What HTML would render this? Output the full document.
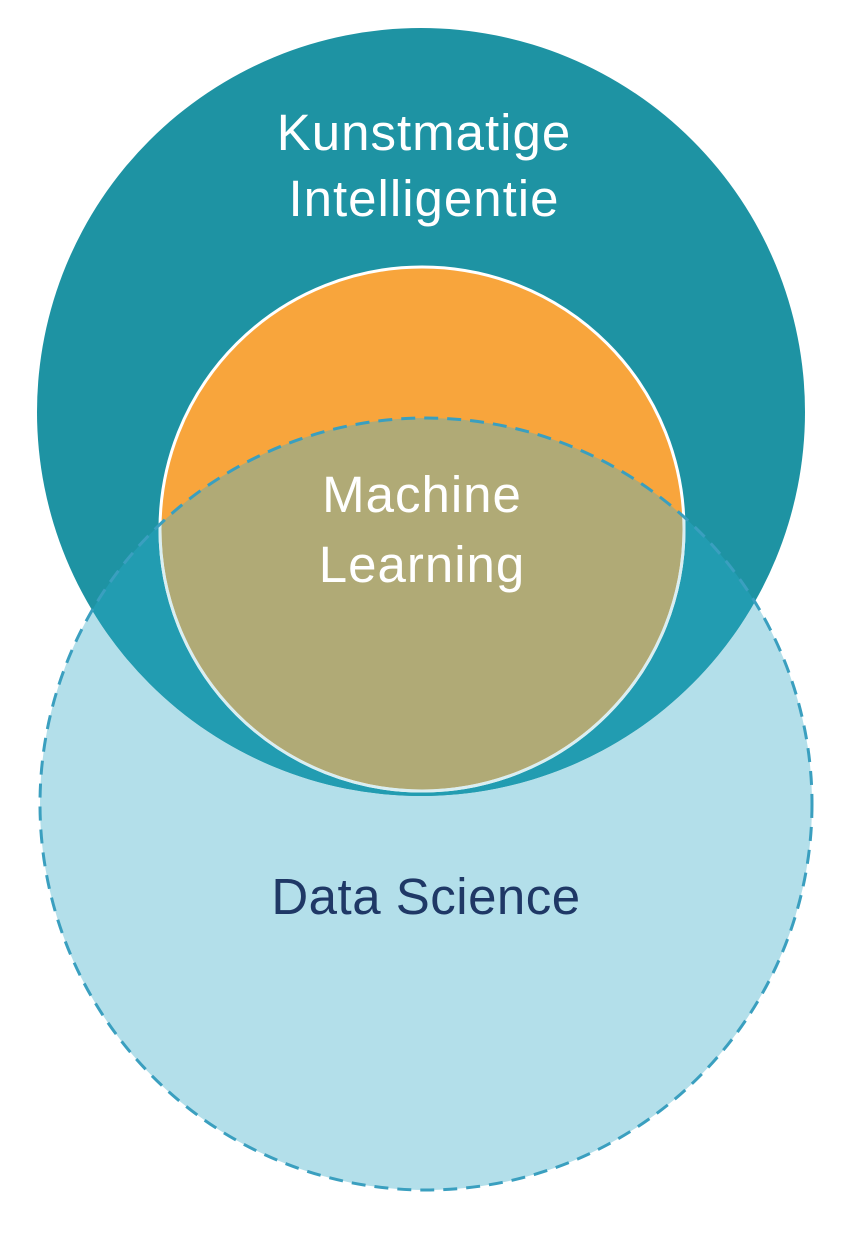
<!DOCTYPE html>
<html><head><meta charset="utf-8"><style>
html,body{margin:0;padding:0;background:#fff;}
svg{display:block;}
text{font-family:"Liberation Sans","DejaVu Sans",sans-serif;}
</style></head><body>
<svg width="848" height="1248" viewBox="0 0 848 1248" xmlns="http://www.w3.org/2000/svg">
<defs>
<clipPath id="ds"><circle cx="426" cy="804" r="386"/></clipPath>
</defs>
<rect width="848" height="1248" fill="#ffffff"/>
<circle cx="426" cy="804" r="386" fill="#b3dfea"/>
<circle cx="421" cy="412" r="384" fill="#1e93a3"/>
<circle cx="421" cy="412" r="384" fill="#229cb1" clip-path="url(#ds)"/>
<circle cx="422" cy="529" r="262" fill="#f8a53c" stroke="#ffffff" stroke-width="3"/>
<circle cx="422" cy="529" r="260.5" fill="#b0aa76" clip-path="url(#ds)"/>
<circle cx="422" cy="529" r="262" fill="none" stroke="#d9eef2" stroke-width="3" clip-path="url(#ds)"/>
<circle cx="426" cy="804" r="386" fill="none" stroke="#3a9fbf" stroke-width="3" stroke-dasharray="14 9"/>
<g fill="#ffffff" font-size="51" text-anchor="middle" letter-spacing="1">
<text x="424" y="150">Kunstmatige</text>
<text x="424" y="216">Intelligentie</text>
<text x="422" y="512">Machine</text>
<text x="422" y="582">Learning</text>
</g>
<text x="426" y="914" font-size="51" letter-spacing="0.5" text-anchor="middle" fill="#1f3866">Data Science</text>
</svg>
</body></html>
